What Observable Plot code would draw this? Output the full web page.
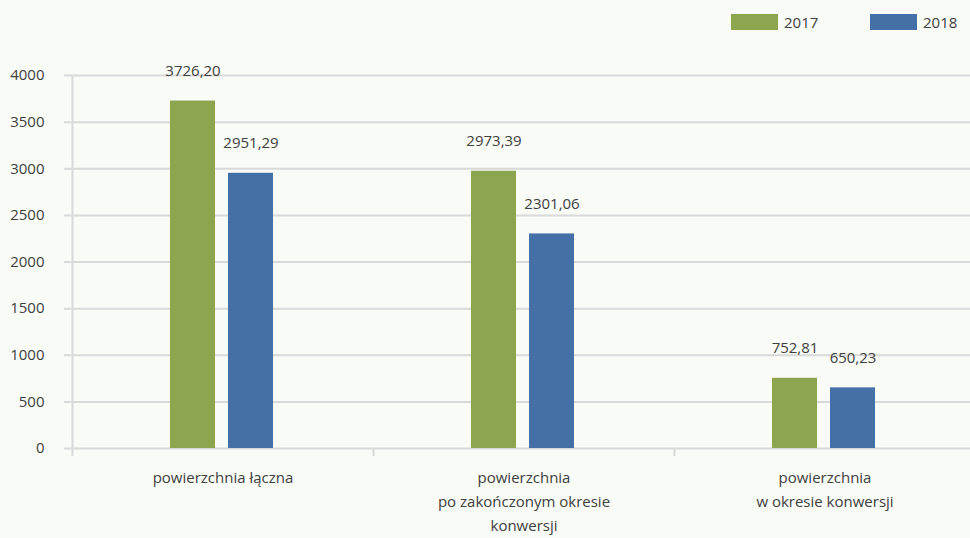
<!DOCTYPE html>
<html><head><meta charset="utf-8">
<script src="https://cdn.jsdelivr.net/npm/d3@7"></script>
<script src="https://cdn.jsdelivr.net/npm/@observablehq/plot@0.6"></script>
<style>
body{margin:0;background:#f9fbf7;font-family:"Open Sans",sans-serif;}
#wrap{position:relative;width:970px;height:538px;overflow:hidden;background:#f9fbf7;}
#wrap svg{position:absolute;left:0;top:0;}
.item{position:absolute;top:14px;display:flex;align-items:center;font-size:15px;color:#404040;line-height:16px;}
.sw{width:47px;height:16px;margin-right:6px;}
</style></head><body><div id="wrap"></div>
<script>
const categories = ["powierzchnia łączna", "powierzchnia\npo zakończonym okresie\nkonwersji", "powierzchnia\nw okresie konwersji"];
const years = ["2017", "2018"];
const values2017 = [3726.20, 2973.39, 752.81];
const values2018 = [2951.29, 2301.06, 650.23];
const yTicks = [0, 500, 1000, 1500, 2000, 2500, 3000, 3500, 4000];
const colors = ["#8ca54e", "#4570a7"];

const series = [values2017, values2018];
const rows = years.map((yr, j) => categories.map((c, i) => ({category: c, year: yr, value: series[j][i]})));
const fmt = v => v.toFixed(2).replace(".", ",");
const offsets = [-30, 28];
const gridColor = "#d9d9d9";
const textColor = "#404040";

const barMarks = rows.flatMap((r, j) => [
  Plot.barY(r, {x: "category", y: "value", fill: colors[j], insetLeft: 128, insetRight: 128, dx: offsets[j]}),
  Plot.text(r, {x: "category", y: "value", text: d => fmt(d.value), dx: offsets[j], dy: -30, fill: textColor, fontSize: 15})
]);

const chart = Plot.plot({
  width: 970,
  height: 538,
  marginLeft: 72,
  marginRight: 0,
  marginTop: 75,
  marginBottom: 90,
  style: {background: "transparent", fontFamily: "'Open Sans', sans-serif", fontSize: "15px", color: textColor},
  x: {domain: categories, range: [72, 975], padding: 0, label: null},
  y: {domain: [0, 4000], range: [448, 75], label: null},
  marks: [
    Plot.ruleY(yTicks, {stroke: gridColor, strokeWidth: 2, insetLeft: -8}),
    Plot.ruleX([categories[0]], {dx: -150.5, y1: 4000, y2: 0, insetBottom: -8, stroke: gridColor, strokeWidth: 2}),
    Plot.ruleX(categories.slice(1), {dx: -150.5, y1: 0, y2: 0, insetBottom: -8, stroke: gridColor, strokeWidth: 2}),
    ...barMarks,
    Plot.axisY(yTicks, {tickSize: 0, tickPadding: 28, fill: textColor, label: null, tickFormat: d => String(d)}),
    Plot.axisX({tickSize: 0, tickPadding: 17, lineHeight: 1.6, fill: textColor, label: null})
  ]
});
const wrap = document.getElementById("wrap");
wrap.appendChild(chart);

const legendX = [731, 870];
years.forEach((yr, j) => {
  const it = document.createElement("div");
  it.className = "item";
  it.style.left = legendX[j] + "px";
  it.innerHTML = `<span class="sw" style="background:${colors[j]}"></span><span>${yr}</span>`;
  wrap.appendChild(it);
});
</script></body></html>
